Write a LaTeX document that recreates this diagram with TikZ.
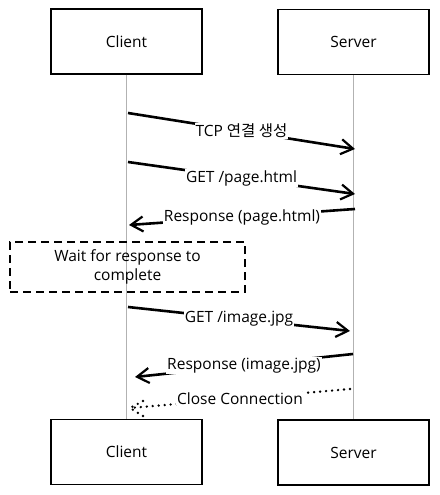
\documentclass[tikz,border=0pt]{standalone}
\usepackage{fontspec}
\setmainfont{Open Sans}
\newfontfamily\kor{Noto Sans CJK KR}
\usetikzlibrary{arrows.meta}

\begin{document}
\begin{tikzpicture}[x=1pt, y=-1pt,
  every node/.style={font=\fontsize{15.5}{19}\selectfont},
  actor/.style={draw, line width=1.4pt, minimum width=151pt, minimum height=65pt},
  life/.style={draw=gray!60, line width=0.7pt},
  msg/.style={line width=2.6pt, -{Straight Barb[length=12pt, width=15pt, line width=2.2pt]}},
  closeline/.style={line width=2.6pt, line cap=round, dash pattern=on 0pt off 6pt},
  lbl/.style={fill=white, inner sep=1pt}]
\useasboundingbox (0,0) rectangle (439,495);

\node[actor] (cl1) at (126.5,41.5) {Client};   % top boxes
\node[actor] (sv1) at (353.5,42) {Server};
\node[actor] (cl2) at (126.5,452) {Client};    % bottom boxes
\node[actor] (sv2) at (353.5,452.5) {Server};

\draw[life] (cl1) -- (cl2);  % lifelines
\draw[life] (sv1) -- (sv2);

\coordinate (a1) at (128,113); \coordinate (b1) at (355,149);
\coordinate (a2) at (128,162); \coordinate (b2) at (355,194);
\coordinate (b3) at (355,209); \coordinate (a3) at (129,225);
\coordinate (a5) at (128,307); \coordinate (b5) at (350,331);
\coordinate (b6) at (353,354); \coordinate (a6) at (135,377);
\coordinate (b7) at (350,389); \coordinate (a7) at (130,408);

\draw[msg] (a1) -- node[lbl] {TCP {\kor 연결 생성}} (b1);
\draw[msg] (a2) -- node[lbl] {GET /page.html} (b2);
\draw[msg] (b3) -- node[lbl] {Response (page.html)} (a3);

\node[draw, line width=1.4pt, dash pattern=on 8pt off 5pt, minimum width=235pt,
  minimum height=50pt, align=center] (wait) at (127.5,267) {Wait for response to\\complete};

\draw[msg] (a5) -- node[lbl] {GET /image.jpg} (b5);
\draw[msg] (b6) -- node[lbl] {Response (image.jpg)} (a6);

\draw[closeline] (b7) -- node[lbl] {Close Connection} (a7);  % dotted close, head drawn by hand
\draw[closeline] (a7) ++(13,-7) -- (a7) -- ++(13,8);
\end{tikzpicture}
\end{document}
